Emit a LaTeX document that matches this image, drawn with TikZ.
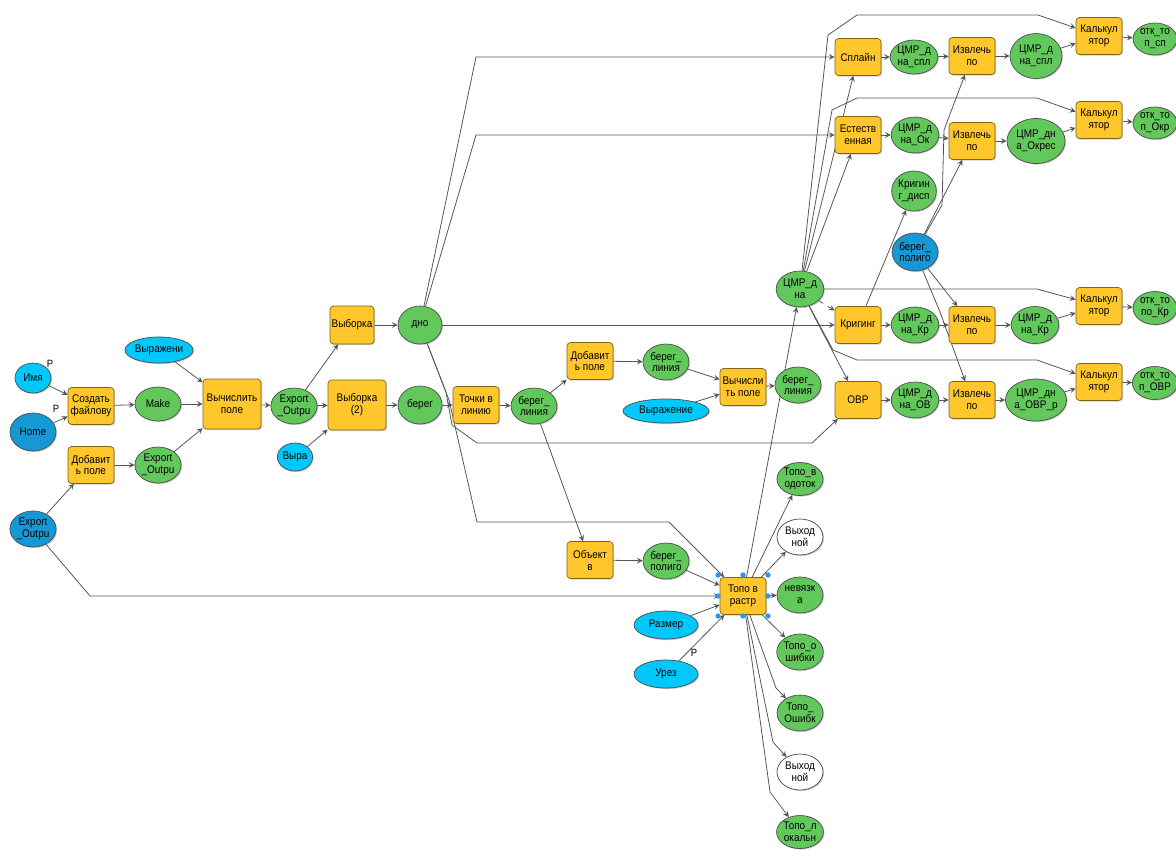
\documentclass[tikz,border=0pt]{standalone}
\usepackage{fontspec}
\newfontfamily\narrowfont[FakeStretch=0.9]{Liberation Sans}
\usepackage{tikz}
\usetikzlibrary{shapes.geometric, arrows, positioning, calc, shadows, backgrounds}

\definecolor{toolfill}{RGB}{255,199,44}
\definecolor{derivedfill}{RGB}{98,200,92}
\definecolor{varfill}{RGB}{0,200,250}
\definecolor{projfill}{RGB}{22,152,212}
\definecolor{linegray}{RGB}{85,85,85}
\definecolor{handleblue}{RGB}{40,150,255}

\begin{document}
\begin{tikzpicture}[
        x=0.02cm, y=-0.02cm,
        softshadow/.style={drop shadow={shadow xshift=0.6pt, shadow yshift=-0.6pt, opacity=0.4}},
        box/.style={rectangle, rounded corners=2pt, draw=toolfill!50!black, fill=toolfill, minimum width=0.92cm, minimum height=0.74cm, inner sep=0pt, align=center, font=\narrowfont\fontsize{6.3}{6.8}\selectfont, softshadow},
        bigbox/.style={box, minimum width=1.16cm, minimum height=1cm},
        derived/.style={ellipse, draw=black!70, fill=derivedfill, minimum width=0.92cm, minimum height=0.72cm, inner sep=0pt, align=center, font=\narrowfont\fontsize{6.3}{6.8}\selectfont, softshadow},
        varell/.style={derived, fill=varfill},
        projdata/.style={derived, fill=projfill},
        outell/.style={derived, fill=white},
        flag/.style={font=\narrowfont\fontsize{6}{6}\selectfont, inner sep=0pt},
        arrow/.style={->, >=stealth, draw=linegray, line width=0.45pt}
    ]
        \useasboundingbox (0,0) rectangle (1176,849);

        % left part
        \node[varell, minimum width=0.72cm, minimum height=0.6cm] (imya) at (33,378) {Имя};
        \node[flag] (pimya) at (50,364) {P};
        \node[projdata, minimum height=0.76cm] (home) at (33,432) {Home};
        \node[flag] (phome) at (56,409) {P};
        \node[box] (sozd) at (91,406) {Создать\\файлову};
        \node[derived, minimum height=0.68cm] (make) at (158,404) {Make};
        \node[varell, minimum width=1.32cm, minimum height=0.52cm] (vyrazh1) at (159,350) {Выражени};
        \node[bigbox] (vych1) at (232,404) {Вычислить\\поле};
        \node[box] (dobav1) at (91,465) {Добавит\\ь поле};
        \node[derived] (exp2) at (158,465) {Export\\\_Outpu};
        \node[projdata] (expblue) at (33,529) {Export\\\_Outpu};
        \node[derived] (exp1) at (294,406) {Export\\\_Outpu};
        \node[box, minimum width=0.88cm, minimum height=0.76cm] (vyb1) at (352,325) {Выборка};
        \node[bigbox] (vyb2) at (357,405) {Выборка\\(2)};
        \node[varell, minimum width=0.68cm, minimum height=0.56cm] (vyra) at (295,457) {Выра};
        \node[derived, minimum width=0.88cm, minimum height=0.76cm] (dno) at (420,325) {дно};
        \node[derived, minimum width=0.88cm, minimum height=0.76cm] (bereg) at (420,405) {берег};

        % middle part
        \node[box] (tochki) at (476,405) {Точки в\\линию};
        \node[derived] (lin1) at (534,406) {берег\_\\линия};
        \node[box] (dobav2) at (590,361) {Добавит\\ь поле};
        \node[derived] (lin2) at (666,362) {берег\_\\линия};
        \node[box] (vych2) at (743,387) {Вычисли\\ть поле};
        \node[varell, minimum width=1.72cm, minimum height=0.48cm] (vyrazh2) at (666,411) {Выражение};
        \node[derived] (lin3) at (798,385) {берег\_\\линия};
        \node[box] (obekt) at (590,560) {Объект\\в};
        \node[derived] (poly1) at (666,561) {берег\_\\полиго};
        \node[box] (topo) at (743,596) {Топо в\\растр};
        \node[varell, minimum width=1.28cm, minimum height=0.56cm] (razmer) at (666,625) {Размер};
        \node[varell, minimum width=1.28cm, minimum height=0.56cm] (urez) at (666,674) {Урез};
        \node[flag] (purez) at (694,653) {P};

        % outputs of topo
        \node[derived, minimum height=0.66cm] (vodotok) at (800,479) {Топо\_в\\одоток};
        \node[outell] (vyhod1) at (800,537) {Выход\\ной};
        \node[derived] (nevyazka) at (800,595) {невязк\\а};
        \node[derived] (oshibki1) at (800,652) {Топо\_о\\шибки};
        \node[derived] (oshibki2) at (800,713) {Топо\_\\Ошибк};
        \node[outell] (vyhod2) at (800,772) {Выход\\ной};
        \node[derived, minimum height=0.66cm] (lokal) at (800,832) {Топо\_л\\окальн};

        % right part
        \node[derived] (cmr) at (800,289) {ЦМР\_д\\на};
        \node[box] (splain) at (858,57) {Сплайн};
        \node[derived, minimum width=0.88cm, minimum height=0.68cm] (spl1) at (914,57) {ЦМР\_д\\на\_спл};
        \node[box] (izv1) at (972,56) {Извлечь\\по};
        \node[derived, minimum width=1.04cm, minimum height=0.9cm] (spl2) at (1036,56) {ЦМР\_д\\на\_спл};
        \node[box] (kalk1) at (1099,36) {Калькул\\ятор};
        \node[derived, minimum width=0.88cm, minimum height=0.64cm] (otk1) at (1155,39) {отк\_то\\п\_сп};

        \node[box] (estestv) at (858,135) {Естеств\\енная};
        \node[derived, minimum width=0.88cm] (ok1) at (915,135) {ЦМР\_д\\на\_Ок};
        \node[box] (izv2) at (972,141) {Извлечь\\по};
        \node[derived, minimum width=1.16cm, minimum height=0.9cm] (ok2) at (1036,141) {ЦМР\_дн\\а\_Окрес};
        \node[box] (kalk2) at (1099,120) {Калькул\\ятор};
        \node[derived, minimum width=0.88cm, minimum height=0.64cm] (otk2) at (1155,123) {отк\_то\\п\_Окр};

        \node[derived, minimum width=0.88cm, minimum height=0.8cm] (krdisp) at (914,191) {Кригин\\г\_дисп};
        \node[projdata, minimum height=0.76cm] (poly2) at (915,252) {берег\_\\полиго};

        \node[box] (krig) at (858,325) {Кригинг};
        \node[derived, minimum width=0.88cm] (kr1) at (915,325) {ЦМР\_д\\на\_Кр};
        \node[box] (izv3) at (972,325) {Извлечь\\по};
        \node[derived, minimum height=0.74cm] (kr2) at (1035,325) {ЦМР\_д\\на\_Кр};
        \node[box] (kalk3) at (1099,306) {Калькул\\ятор};
        \node[derived, minimum width=0.88cm, minimum height=0.66cm] (otk3) at (1155,308) {отк\_то\\по\_Кр};

        \node[box] (ovr) at (858,400) {ОВР};
        \node[derived, minimum width=0.88cm] (ov1) at (915,400) {ЦМР\_д\\на\_ОВ};
        \node[box] (izv4) at (972,400) {Извлечь\\по};
        \node[derived, minimum width=1.16cm, minimum height=0.84cm] (ov2) at (1036,400) {ЦМР\_дн\\а\_ОВР\_р};
        \node[box] (kalk4) at (1099,382) {Калькул\\ятор};
        \node[derived, minimum width=0.88cm, minimum height=0.66cm] (otk4) at (1155,383) {отк\_то\\п\_ОВР};

        % selection handles of topo
        \fill[handleblue] (718,575) circle (1.5pt) (743,575) circle (1.5pt) (768,575) circle (1.5pt)
            (718,596) circle (1.5pt) (768,596) circle (1.5pt)
            (718,616) circle (1.5pt) (743,616) circle (1.5pt) (768,616) circle (1.5pt);

        \begin{scope}[on background layer]
        \draw[arrow] (imya) -- (sozd);
        \draw[arrow] (home) -- (sozd);
        \draw[arrow] (sozd) -- (make);
        \draw[arrow] (make) -- (vych1);
        \draw[arrow] (vyrazh1) -- (vych1);
        \draw[arrow] (exp2) -- (vych1);
        \draw[arrow] (dobav1) -- (exp2);
        \draw[arrow] (expblue) -- (dobav1);
        \draw[arrow] (vych1) -- (exp1);
        \draw[arrow] (exp1) -- (vyb2);
        \draw[arrow] (exp1) -- (vyb1);
        \draw[arrow] (vyra) -- (vyb2);
        \draw[arrow] (vyb1) -- (dno);
        \draw[arrow] (vyb2) -- (bereg);
        \draw[arrow] (bereg) -- (tochki);
        \draw[arrow] (tochki) -- (lin1);
        \draw[arrow] (lin1) -- (dobav2);
        \draw[arrow] (dobav2) -- (lin2);
        \draw[arrow] (lin2) -- (vych2);
        \draw[arrow] (vyrazh2) -- (vych2);
        \draw[arrow] (vych2) -- (lin3);
        \draw[arrow] (lin1) -- (obekt);
        \draw[arrow] (obekt) -- (poly1);
        \draw[arrow] (poly1) -- (topo);
        \draw[arrow] (razmer) -- (topo);
        \draw[arrow] (urez) -- (topo);
        \draw[arrow] (expblue) -- (90,596) -- (topo);
        \draw[arrow] (dno) -- (449,400) -- (477,522) -- (669,522) -- (topo);
        \draw[arrow] (dno) -- (446,392) -- (452,425) -- (477,443) -- (812,443) -- (ovr);
        \draw[arrow] (dno) -- (476,57) -- (splain);
        \draw[arrow] (dno) -- (476,135) -- (estestv);
        \draw[arrow] (dno) -- (krig);

        \draw[arrow] (topo) -- (cmr);
        \draw[arrow] (cmr) -- (splain);
        \draw[arrow] (cmr) -- (estestv);
        \draw[arrow] (cmr) -- (828,35) -- (857,15) -- (1038,15) -- (kalk1);
        \draw[arrow] (cmr) -- (832,110) -- (857,98) -- (1037,98) -- (kalk2);
        \draw[arrow] (cmr.east) -- (1037,289) -- (kalk3);
        \draw[arrow] (cmr) -- (833,350) -- (857,360) -- (1037,360) -- (kalk4);
        \draw[arrow, dashed] (cmr) -- (krig);
        \draw[arrow] (cmr) -- (ovr);
        \draw[arrow] (krig) -- (krdisp);

        \draw[arrow] (poly2) -- (942,205) -- (944,130) -- (izv1);
        \draw[arrow] (poly2) -- (izv2);
        \draw[arrow] (poly2) -- (izv3);
        \draw[arrow] (poly2) -- (940,312) -- (izv4);

        \draw[arrow] (splain) -- (spl1);
        \draw[arrow] (spl1) -- (izv1);
        \draw[arrow] (izv1) -- (spl2);
        \draw[arrow] (spl2) -- (kalk1);
        \draw[arrow] (kalk1) -- (otk1);
        \draw[arrow] (estestv) -- (ok1);
        \draw[arrow] (ok1) -- (izv2);
        \draw[arrow] (izv2) -- (ok2);
        \draw[arrow] (ok2) -- (kalk2);
        \draw[arrow] (kalk2) -- (otk2);
        \draw[arrow] (krig) -- (kr1);
        \draw[arrow] (kr1) -- (izv3);
        \draw[arrow] (izv3) -- (kr2);
        \draw[arrow] (kr2) -- (kalk3);
        \draw[arrow] (kalk3) -- (otk3);
        \draw[arrow] (ovr) -- (ov1);
        \draw[arrow] (ov1) -- (izv4);
        \draw[arrow] (izv4) -- (ov2);
        \draw[arrow] (ov2) -- (kalk4);
        \draw[arrow] (kalk4) -- (otk4);

        \draw[arrow] (topo) -- (vodotok);
        \draw[arrow] (topo) -- (vyhod1);
        \draw[arrow] (topo) -- (nevyazka);
        \draw[arrow] (topo) -- (oshibki1);
        \draw[arrow] (topo) -- (776,688) -- (oshibki2);
        \draw[arrow] (topo) -- (773,742) -- (vyhod2);
        \draw[arrow] (topo) -- (770,792) -- (lokal);
        \end{scope}
    \end{tikzpicture}
\end{document}
